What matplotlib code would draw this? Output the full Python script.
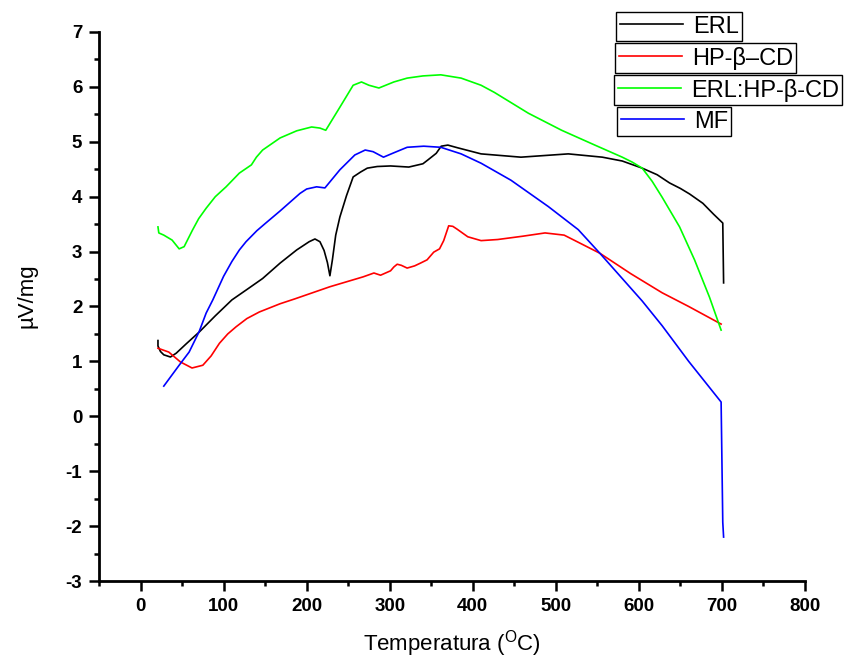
"""
DSC curves: ERL, HP-beta-CD, ERL:HP-beta-CD and MF.
"""
import matplotlib
matplotlib.use("Agg")
import matplotlib.pyplot as plt
from matplotlib.ticker import MultipleLocator

plt.rcParams['font.family'] = ['Liberation Sans', 'DejaVu Sans']
plt.rcParams['mathtext.fontset'] = 'custom'
plt.rcParams['mathtext.rm'] = 'Liberation Sans'
plt.rcParams['axes.unicode_minus'] = False

# ERL
erl_t = [21, 21, 24, 28, 36, 43, 55, 71, 90, 110, 130, 147, 168, 188, 203, 210, 216, 221, 225, 228,
         231, 235, 240, 248, 256, 265, 273, 285, 301, 323, 340, 346, 356, 362, 370, 382, 410, 458,
         515, 556, 580, 604, 622, 637, 650, 661, 677, 690, 701, 702]
erl_v = [1.38, 1.28, 1.18, 1.12, 1.08, 1.15, 1.32, 1.54, 1.83, 2.12, 2.33, 2.51, 2.79, 3.03, 3.18,
         3.23, 3.18, 3.02, 2.8, 2.56, 2.85, 3.3, 3.63, 4.02, 4.36, 4.45, 4.52, 4.55, 4.56, 4.54, 4.6,
         4.67, 4.79, 4.92, 4.94, 4.89, 4.78, 4.72, 4.78, 4.72, 4.65, 4.52, 4.4, 4.25, 4.15, 4.05,
         3.88, 3.68, 3.52, 2.43]

# HP-beta-CD
hp_t = [21, 34, 48, 62, 75, 85, 95, 105, 115, 128, 143, 168, 186, 228, 268, 281, 289, 301, 305, 309,
        314, 321, 330, 337, 345, 353, 360, 365, 371, 376, 381, 394, 410, 430, 460, 487, 510, 527,
        553, 590, 628, 660, 699]
hp_v = [1.24, 1.17, 0.99, 0.88, 0.93, 1.1, 1.33, 1.5, 1.63, 1.78, 1.9, 2.05, 2.14, 2.36, 2.54, 2.61,
        2.57, 2.65, 2.72, 2.77, 2.75, 2.70, 2.74, 2.79, 2.85, 2.99, 3.05, 3.2, 3.47, 3.46, 3.41, 3.27,
        3.2, 3.22, 3.28, 3.34, 3.3, 3.17, 2.97, 2.6, 2.25, 2.0, 1.68]

# ERL:HP-beta-CD
g_t = [21, 22, 28, 38, 46.5, 52.5, 62.5, 70, 79, 90, 103, 119, 133.5, 139.5, 147, 168, 188, 206,
       216, 223, 240, 256, 266, 275, 287, 305, 321, 340, 361.5, 386, 410, 426, 467, 507, 547, 580,
       592, 604, 616, 628, 649, 667, 685, 699]
g_v = [3.45, 3.34, 3.3, 3.21, 3.05, 3.09, 3.39, 3.6, 3.79, 4.0, 4.18, 4.43, 4.58, 4.72, 4.85, 5.07,
       5.2, 5.27, 5.25, 5.21, 5.63, 6.03, 6.09, 6.03, 5.98, 6.09, 6.16, 6.2, 6.22, 6.16, 6.03, 5.9,
       5.52, 5.21, 4.94, 4.72, 4.63, 4.52, 4.28, 3.99, 3.45, 2.85, 2.17, 1.57]

# MF
mf_t = [28, 46.5, 58.5, 70.5, 79, 87, 100, 110, 119, 127, 140, 150, 168, 192, 200, 212, 222, 240,
        258, 270.5, 280, 292.5, 305, 321, 341, 361.5, 386, 410, 446, 491, 527, 553, 604, 628, 660,
        699, 701, 702]
mf_v = [0.55, 0.93, 1.17, 1.54, 1.88, 2.12, 2.55, 2.82, 3.03, 3.18, 3.38, 3.51, 3.74, 4.06, 4.14,
        4.18, 4.16, 4.49, 4.76, 4.85, 4.82, 4.72, 4.8, 4.9, 4.92, 4.9, 4.78, 4.61, 4.3, 3.82, 3.4,
        2.97, 2.1, 1.65, 1.0, 0.26, -1.93, -2.2]

fig = plt.figure(figsize=(8.56, 6.61), dpi=100)
ax = fig.add_axes([99 / 856, 80 / 661, 706 / 856, 549 / 661])

l1, = ax.plot(erl_t, erl_v, color='black', lw=1.2)
l2, = ax.plot(hp_t, hp_v, color='#ff0000', lw=1.2)
l3, = ax.plot(g_t, g_v, color='#00ff00', lw=1.2)
l4, = ax.plot(mf_t, mf_v, color='#0000ff', lw=1.2)

ax.set_xlim(-50, 800)
ax.set_ylim(-3, 7)
ax.xaxis.set_major_locator(MultipleLocator(100))
ax.xaxis.set_minor_locator(MultipleLocator(50))
ax.yaxis.set_major_locator(MultipleLocator(1))
ax.yaxis.set_minor_locator(MultipleLocator(0.5))
ax.spines['top'].set_visible(False)
ax.spines['right'].set_visible(False)
ax.spines['left'].set_linewidth(2)
ax.spines['bottom'].set_linewidth(2)
ax.tick_params(which='major', direction='out', length=7, width=1.8, labelsize=13.5, pad=5)
ax.tick_params(which='minor', direction='out', length=3.5, width=1.8)
for lab in ax.get_xticklabels() + ax.get_yticklabels():
    lab.set_fontweight('bold')

ax.set_xlabel(r'Temperatura ($\mathregular{^{O}}$C)', fontsize=16)
ax.set_ylabel('\u00b5V/mg', fontsize=16)
ax.xaxis.set_label_coords(0.5, -0.085)
ax.yaxis.set_label_coords(-0.087, 0.52)

# separate legend boxes, one for each curve
boxes = [(l1, 'ERL', 616, 12), (l2, 'HP-\u03b2\u2013CD', 615, 43),
         (l3, 'ERL:HP-\u03b2-CD', 614, 75), (l4, 'MF', 617, 107)]
for line, name, bx, by in boxes:
    fig.legend(handles=[line], labels=[name], loc='upper left',
               bbox_to_anchor=(bx / 856, 1 - by / 661), bbox_transform=fig.transFigure,
               borderaxespad=0, borderpad=0.15, fontsize=17, handlelength=2.7,
               handletextpad=0.4, frameon=True, fancybox=False, framealpha=1,
               edgecolor='black')

fig.savefig('out.png', dpi=100)
